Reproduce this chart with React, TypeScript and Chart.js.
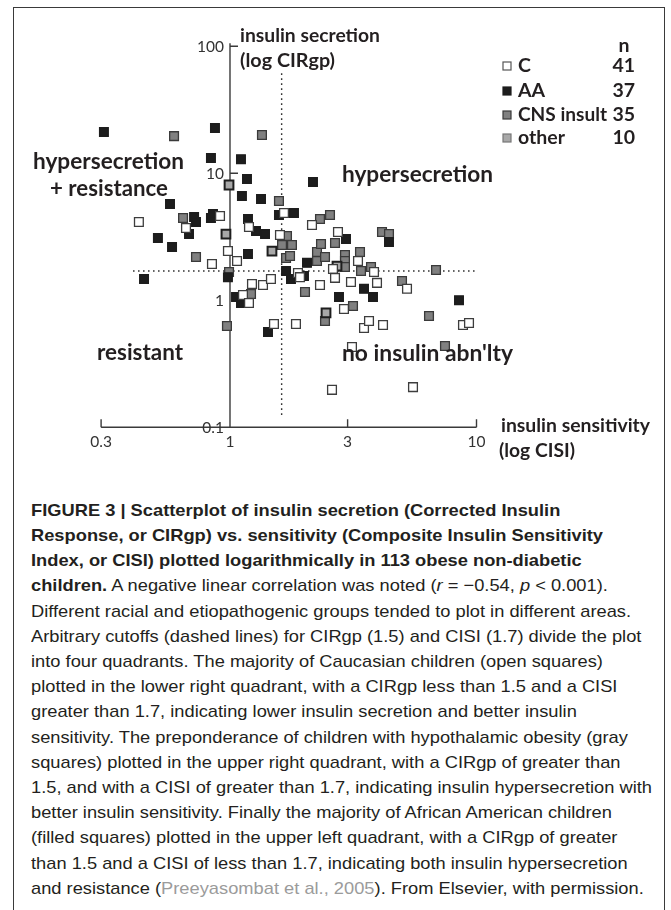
import React, { useEffect, useRef } from 'react';
import { Chart, registerables } from 'chart.js';

Chart.register(...registerables);

// ---------------- data ----------------
const groupNames = ['C', 'AA', 'CNS insult', 'other'];
const groupCounts = ['41', '37', '35', '10'];

// C (Caucasian) – open squares
const cCISI = [0.427, 0.911, 1.656, 1.194, 0.663, 2.151, 0.845, 0.981, 1.068, 1.595, 2.742, 1.887, 1.923, 2.617, 3.306, 3.839, 1.228, 1.361, 1.466, 2.667, 3.096, 2.318, 3.948, 5.225, 1.129, 1.194, 2.9, 3.497, 3.664, 4.176, 8.815, 9.324, 1.508, 1.852, 5.526, 2.593, 3.125];
const cCIRgp = [4.13, 4.61, 4.86, 3.77, 3.71, 3.91, 1.93, 2.44, 2.04, 3.26, 3.45, 1.64, 1.52, 1.76, 2.04, 1.67, 1.34, 1.32, 1.47, 1.5, 1.39, 1.32, 1.37, 1.23, 1.1, 0.951, 0.853, 0.605, 0.687, 0.638, 0.638, 0.662, 0.65, 0.65, 0.207, 0.197, 0.428];

// AA (African American) – filled squares
const aaCISI = [0.308, 0.869, 0.837, 1.108, 1.172, 2.171, 0.571, 1.118, 1.336, 1.58, 1.818, 0.715, 0.728, 0.837, 0.853, 1.183, 1.275, 1.387, 0.682, 0.51, 0.582, 1.183, 0.981, 0.448, 1.688, 1.768, 1.996, 2.053, 2.955, 4.416, 2.768, 3.497, 3.803, 8.492, 1.058, 1.108, 1.426];
const aaCIRgp = [21.1, 22.7, 13.2, 12.9, 9.01, 8.53, 5.73, 6.62, 6.27, 4.69, 4.86, 4.52, 4.13, 4.44, 4.78, 4.36, 3.51, 3.32, 3.32, 3.09, 2.63, 2.31, 1.52, 1.47, 1.7, 1.47, 1.55, 1.97, 3.04, 2.88, 1.06, 1.23, 1.06, 1.0, 1.06, 0.951, 0.562];

// CNS insult – gray squares
const cnsCISI = [0.593, 1.348, 1.58, 0.645, 2.318, 2.545, 1.703, 1.626, 1.784, 1.688, 1.752, 0.728, 0.991, 2.254, 2.34, 2.254, 2.429, 2.667, 4.137, 4.416, 2.927, 2.927, 2.927, 3.368, 3.4, 3.733, 6.851, 2.015, 1.217, 3.155, 2.429, 0.972, 4.986, 6.417, 7.45];
const cnsCIRgp = [19.6, 20.0, 6.05, 4.44, 4.36, 4.69, 3.21, 2.72, 2.72, 2.15, 2.23, 2.19, 1.67, 2.4, 2.77, 2.04, 2.19, 2.82, 3.45, 3.32, 2.27, 2.04, 1.83, 2.4, 1.7, 1.83, 1.73, 1.16, 1.12, 0.901, 0.687, 0.627, 1.42, 0.752, 0.436];

// other
const otherCISI = [0.991, 0.963, 1.48, 2.452, 2.717];
const otherCIRgp = [8.08, 3.32, 2.44, 0.794, 1.86];

// axes
const xTickValues = [0.3, 1, 3, 10];
const xTickLabels = ['0.3', '1', '3', '10'];
const yTickValues = [100, 10, 1, 0.1];
const yTickLabels = ['100', '10', '1', '0.1'];

// cutoff (dashed) lines
const cisiCutoff = 1.62;
const cisiLineCIRgp = [0.125, 62.7];
const cirgpCutoff = 1.7;
const cirgpLineCISI = [0.404, 9.95];

// ---------------- styles ----------------
const TEXT = '#231f20';
const groupStyles = [
  { bg: '#ffffff', border: '#3d3d3d', bw: 1.3 },
  { bg: '#1d1d1d', border: '#1d1d1d', bw: 1.2 },
  { bg: '#808080', border: '#3a3a3a', bw: 1.3 },
  { bg: '#a8a8a8', border: '#1e1e1e', bw: 2 },
];

function pts(xs: number[], ys: number[]) {
  return xs.map((x, i) => ({ x, y: ys[i] }));
}

function fitText(ctx: CanvasRenderingContext2D, text: string, x: number, y: number, font: string, targetW: number | null, align: CanvasTextAlign = 'left') {
  ctx.save();
  ctx.font = font;
  const w = ctx.measureText(text).width;
  let k = targetW ? targetW / w : 1;
  k = Math.max(0.8, Math.min(1.25, k));
  ctx.translate(x, y);
  ctx.scale(k, 1);
  ctx.textAlign = align;
  ctx.textBaseline = 'alphabetic';
  ctx.fillStyle = TEXT;
  ctx.fillText(text, 0, 0);
  ctx.restore();
}

const axesPlugin = {
  id: 'customAxes',
  beforeDatasetsDraw(chart: any) {
    const { ctx } = chart;
    const xs = chart.scales.x;
    const ys = chart.scales.y;
    const axisX = xs.getPixelForValue(1);
    const axisY = ys.getPixelForValue(0.1);
    ctx.save();
    ctx.strokeStyle = '#3a3a3a';
    ctx.lineWidth = 1.4;
    ctx.beginPath();
    ctx.moveTo(axisX, ys.getPixelForValue(100) - 3);
    ctx.lineTo(axisX, axisY);
    [100, 10].forEach((v) => {
      const py = ys.getPixelForValue(v);
      ctx.moveTo(axisX, py);
      ctx.lineTo(axisX + 8, py);
    });
    ctx.moveTo(xs.getPixelForValue(0.3), axisY);
    ctx.lineTo(xs.getPixelForValue(10), axisY);
    [0.3, 3, 10].forEach((v) => {
      const px = xs.getPixelForValue(v);
      ctx.moveTo(px, axisY);
      ctx.lineTo(px, axisY - 8);
    });
    ctx.stroke();
    ctx.restore();

    // tick labels
    ctx.save();
    ctx.font = '15.5px Lato';
    ctx.fillStyle = '#333';
    ctx.textBaseline = 'middle';
    ctx.textAlign = 'right';
    yTickValues.forEach((v, i) => {
      ctx.fillText(yTickLabels[i], axisX - 6, ys.getPixelForValue(v) + 1);
    });
    ctx.textAlign = 'center';
    ctx.textBaseline = 'top';
    xTickValues.forEach((v, i) => {
      ctx.fillText(xTickLabels[i], xs.getPixelForValue(v), axisY + 7);
    });
    ctx.restore();
  },
  afterDatasetsDraw(chart: any) {
    const { ctx } = chart;
    const bold = (s: number) => `bold ${s}px Lato`;
    // axis titles
    fitText(ctx, 'insulin secretion', 240, 42, bold(19.5), 140);
    fitText(ctx, '(log CIRgp)', 240, 67, bold(19.5), 95);
    fitText(ctx, 'insulin sensitivity', 501, 432, bold(19.5), 149);
    fitText(ctx, '(log CISI)', 499, 457, bold(19.5), 76);
    // quadrant labels
    fitText(ctx, 'hypersecretion', 33, 169, bold(23), 151);
    fitText(ctx, '+ resistance', 50, 196, bold(23), 118);
    fitText(ctx, 'hypersecretion', 342, 182, bold(23), 151);
    fitText(ctx, 'resistant', 97, 360, bold(23), 86);
    fitText(ctx, "no insulin abn'lty", 342, 361, bold(23), 171);
    // legend
    fitText(ctx, 'n', 624, 52, bold(19.5), null, 'center');
    const rows = [72, 97, 121, 144];
    groupNames.forEach((name, i) => {
      const st = groupStyles[i];
      const cy = rows[i] - 6;
      ctx.save();
      ctx.fillStyle = st.bg;
      ctx.fillRect(503, cy - 4, 8, 8);
      ctx.strokeStyle = i === 0 ? '#555' : i === 3 ? '#777' : st.border;
      ctx.lineWidth = 1.2;
      ctx.strokeRect(503, cy - 4, 8, 8);
      ctx.restore();
      fitText(ctx, name, 518, rows[i], bold(19.5), i === 2 ? 89 : null);
      fitText(ctx, groupCounts[i], 635, rows[i], bold(19.5), null, 'right');
    });
  },
};

const captionLines: React.ReactNode[] = [
  <b>FIGURE 3 | Scatterplot of insulin secretion (Corrected Insulin</b>,
  <b>Response, or CIRgp) vs. sensitivity (Composite Insulin Sensitivity</b>,
  <b>Index, or CISI) plotted logarithmically in 113 obese non-diabetic</b>,
  <>
    <b>children.</b> A negative linear correlation was noted (<i>r</i> = −0.54, <i>p</i> &lt; 0.001).
  </>,
  <>Different racial and etiopathogenic groups tended to plot in different areas.</>,
  <>Arbitrary cutoffs (dashed lines) for CIRgp (1.5) and CISI (1.7) divide the plot</>,
  <>into four quadrants. The majority of Caucasian children (open squares)</>,
  <>plotted in the lower right quadrant, with a CIRgp less than 1.5 and a CISI</>,
  <>greater than 1.7, indicating lower insulin secretion and better insulin</>,
  <>sensitivity. The preponderance of children with hypothalamic obesity (gray</>,
  <>squares) plotted in the upper right quadrant, with a CIRgp of greater than</>,
  <>1.5, and with a CISI of greater than 1.7, indicating insulin hypersecretion with</>,
  <>better insulin sensitivity. Finally the majority of African American children</>,
  <>(filled squares) plotted in the upper left quadrant, with a CIRgp of greater</>,
  <>than 1.5 and a CISI of less than 1.7, indicating both insulin hypersecretion</>,
  <>
    and resistance (<span style={{ color: '#9b9b9b' }}>Preeyasombat et al., 2005</span>). From Elsevier, with permission.
  </>,
];

export default function App() {
  const canvasRef = useRef<HTMLCanvasElement | null>(null);
  const capRef = useRef<HTMLDivElement | null>(null);
  const refLine = useRef<HTMLSpanElement | null>(null);

  useEffect(() => {
    const canvas = canvasRef.current;
    if (!canvas) return;
    const mk = (label: string, xs: number[], ys: number[], i: number, order: number) => ({
      label,
      data: pts(xs, ys),
      pointStyle: 'rect',
      pointRadius: 6.2,
      pointHoverRadius: 6.2,
      backgroundColor: groupStyles[i].bg,
      borderColor: groupStyles[i].border,
      borderWidth: groupStyles[i].bw,
      order,
      clip: false,
    });
    const chart = new Chart(canvas, {
      type: 'scatter',
      data: {
        datasets: [
          {
            label: 'CISI cutoff',
            type: 'line',
            data: cisiLineCIRgp.map((y) => ({ x: cisiCutoff, y })),
            borderColor: '#333',
            borderWidth: 1.4,
            borderDash: [1.6, 3.4],
            pointRadius: 0,
            fill: false,
            order: 20,
          } as any,
          {
            label: 'CIRgp cutoff',
            type: 'line',
            data: cirgpLineCISI.map((x) => ({ x, y: cirgpCutoff })),
            borderColor: '#333',
            borderWidth: 1.4,
            borderDash: [1.6, 3.4],
            pointRadius: 0,
            fill: false,
            order: 20,
          } as any,
          mk('CNS insult', cnsCISI, cnsCIRgp, 2, 4),
          mk('other', otherCISI, otherCIRgp, 3, 3),
          mk('AA', aaCISI, aaCIRgp, 1, 2),
          mk('C', cCISI, cCIRgp, 0, 1),
        ],
      },
      options: {
        responsive: false,
        animation: false,
        events: [],
        layout: { autoPadding: false, padding: { left: 101.1, right: 194.5, top: 46.25, bottom: 42.75 } },
        plugins: { legend: { display: false }, tooltip: { enabled: false } },
        scales: {
          x: { type: 'logarithmic', min: 0.3, max: 10, display: false },
          y: { type: 'logarithmic', min: 0.1, max: 100, display: false },
        },
      } as any,
      plugins: [axesPlugin as any],
    });

    // fit caption width to the reference line length
    if (capRef.current && refLine.current) {
      const w = refLine.current.getBoundingClientRect().width;
      const k = 621 / w;
      capRef.current.style.transform = `scaleX(${k})`;
    }
    return () => chart.destroy();
  }, []);

  return (
    <div style={{ position: 'absolute', left: 0, top: 0, width: 671, height: 910, overflow: 'hidden', background: '#fff' }}>
      <div style={{ position: 'absolute', left: 13, top: 7, width: 650, height: 960, border: '1.5px solid #3a3a3a' }} />
      <canvas ref={canvasRef} width={671} height={470} style={{ position: 'absolute', left: 0, top: 0, width: 671, height: 470 }} />
      <div
        ref={capRef}
        style={{
          position: 'absolute',
          left: 31,
          top: 497.9,
          transformOrigin: '0 0',
          fontFamily: "'Liberation Sans', Arial, sans-serif",
          fontSize: 17,
          lineHeight: '25.2px',
          color: TEXT,
          whiteSpace: 'nowrap',
        }}
      >
        {captionLines.map((ln, i) => (
          <div key={i} style={{ height: 25.2 }}>
            <span ref={i === 11 ? refLine : undefined}>{ln}</span>
          </div>
        ))}
      </div>
    </div>
  );
}
